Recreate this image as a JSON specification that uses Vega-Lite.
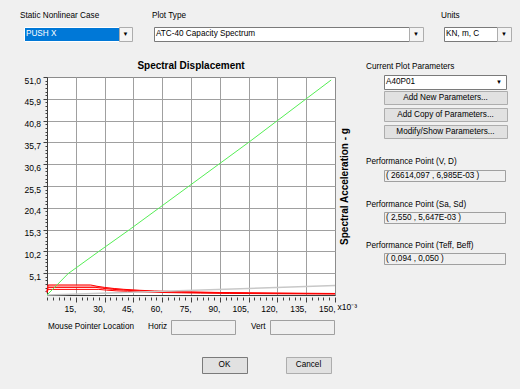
{
  "$schema": "https://vega.github.io/schema/vega-lite/v6.json",
  "background": "#f0f0f0",
  "padding": 0,
  "config": {
    "font": "Liberation Sans",
    "view": {"stroke": null},
    "title": {"font": "Liberation Sans", "color": "#000000", "fontSize": 8.2, "fontWeight": "normal"},
    "axis": {"labelFont": "Liberation Sans", "titleFont": "Liberation Sans", "labelColor": "#000000", "titleColor": "#000000"},
    "text": {"font": "Liberation Sans", "fontSize": 8.2, "color": "#000000"}
  },
  "datasets": {
    "curves": [
      {"series": "R1", "sd": 0, "sa": 0.94}, {"series": "R1", "sd": 0.6, "sa": 2.35}, {"series": "R1", "sd": 22.7, "sa": 2.35}, {"series": "R1", "sd": 26, "sa": 2.05}, {"series": "R1", "sd": 30, "sa": 1.78}, {"series": "R1", "sd": 35, "sa": 1.52}, {"series": "R1", "sd": 40, "sa": 1.33}, {"series": "R1", "sd": 48, "sa": 1.11}, {"series": "R1", "sd": 56, "sa": 0.95}, {"series": "R1", "sd": 65, "sa": 0.82}, {"series": "R1", "sd": 75, "sa": 0.71}, {"series": "R1", "sd": 90, "sa": 0.59}, {"series": "R1", "sd": 105, "sa": 0.51}, {"series": "R1", "sd": 120, "sa": 0.44}, {"series": "R1", "sd": 135, "sa": 0.4}, {"series": "R1", "sd": 150, "sa": 0.36},
      {"series": "P1", "sd": 0, "sa": 0.86}, {"series": "P1", "sd": 0.6, "sa": 2.15}, {"series": "P1", "sd": 23.5, "sa": 2.15}, {"series": "P1", "sd": 27, "sa": 1.87}, {"series": "P1", "sd": 32, "sa": 1.58}, {"series": "P1", "sd": 38, "sa": 1.33}, {"series": "P1", "sd": 45, "sa": 1.12}, {"series": "P1", "sd": 55, "sa": 0.92}, {"series": "P1", "sd": 65, "sa": 0.78}, {"series": "P1", "sd": 75, "sa": 0.67}, {"series": "P1", "sd": 90, "sa": 0.56}, {"series": "P1", "sd": 105, "sa": 0.48}, {"series": "P1", "sd": 120, "sa": 0.42}, {"series": "P1", "sd": 135, "sa": 0.37}, {"series": "P1", "sd": 150, "sa": 0.34},
      {"series": "P2", "sd": 0, "sa": 0.78}, {"series": "P2", "sd": 0.6, "sa": 1.95}, {"series": "P2", "sd": 24.5, "sa": 1.95}, {"series": "P2", "sd": 28, "sa": 1.71}, {"series": "P2", "sd": 33, "sa": 1.45}, {"series": "P2", "sd": 40, "sa": 1.2}, {"series": "P2", "sd": 48, "sa": 1.0}, {"series": "P2", "sd": 56, "sa": 0.85}, {"series": "P2", "sd": 65, "sa": 0.74}, {"series": "P2", "sd": 75, "sa": 0.64}, {"series": "P2", "sd": 90, "sa": 0.53}, {"series": "P2", "sd": 105, "sa": 0.46}, {"series": "P2", "sd": 120, "sa": 0.4}, {"series": "P2", "sd": 135, "sa": 0.35}, {"series": "P2", "sd": 150, "sa": 0.32},
      {"series": "R2", "sd": 0, "sa": 0.71}, {"series": "R2", "sd": 0.6, "sa": 1.78}, {"series": "R2", "sd": 25.5, "sa": 1.78}, {"series": "R2", "sd": 29, "sa": 1.57}, {"series": "R2", "sd": 34, "sa": 1.34}, {"series": "R2", "sd": 40, "sa": 1.14}, {"series": "R2", "sd": 48, "sa": 0.95}, {"series": "R2", "sd": 56, "sa": 0.81}, {"series": "R2", "sd": 65, "sa": 0.7}, {"series": "R2", "sd": 75, "sa": 0.61}, {"series": "R2", "sd": 90, "sa": 0.5}, {"series": "R2", "sd": 105, "sa": 0.43}, {"series": "R2", "sd": 120, "sa": 0.38}, {"series": "R2", "sd": 135, "sa": 0.34}, {"series": "R2", "sd": 150, "sa": 0.3},
      {"series": "R3", "sd": 0, "sa": 0.52}, {"series": "R3", "sd": 0.6, "sa": 1.31}, {"series": "R3", "sd": 27, "sa": 1.31}, {"series": "R3", "sd": 31, "sa": 1.14}, {"series": "R3", "sd": 36, "sa": 0.98}, {"series": "R3", "sd": 42, "sa": 0.84}, {"series": "R3", "sd": 50, "sa": 0.71}, {"series": "R3", "sd": 60, "sa": 0.59}, {"series": "R3", "sd": 70, "sa": 0.51}, {"series": "R3", "sd": 80, "sa": 0.44}, {"series": "R3", "sd": 95, "sa": 0.37}, {"series": "R3", "sd": 110, "sa": 0.32}, {"series": "R3", "sd": 125, "sa": 0.28}, {"series": "R3", "sd": 140, "sa": 0.25}, {"series": "R3", "sd": 150, "sa": 0.24},
      {"series": "G", "sd": 0, "sa": 0}, {"series": "G", "sd": 150, "sa": 2.2},
      {"series": "C", "sd": 0, "sa": 0}, {"series": "C", "sd": 5.65, "sa": 2.55}, {"series": "C", "sd": 11, "sa": 5.0}, {"series": "C", "sd": 27, "sa": 10.2}, {"series": "C", "sd": 43, "sa": 15.3}, {"series": "C", "sd": 58.5, "sa": 20.4}, {"series": "C", "sd": 74, "sa": 25.5}, {"series": "C", "sd": 89.5, "sa": 30.6}, {"series": "C", "sd": 105, "sa": 35.7}, {"series": "C", "sd": 120, "sa": 40.8}, {"series": "C", "sd": 135, "sa": 45.9}, {"series": "C", "sd": 148, "sa": 50.3}
    ]
  },
  "spacing": 0,
  "bounds": "full",
  "vconcat": [
    {"width": 520, "height": 11, "data": {"values": []}, "mark": "point"},
    {
      "spacing": 0, "bounds": "flush",
      "hconcat": [
        {"width": 20, "height": 10, "data": {"values": []}, "mark": "point"},
        {"width": 132, "height": 10, "data": {"values": [{"t": "Static Nonlinear Case"}]}, "mark": {"type": "text", "align": "left", "x": 0}, "encoding": {"text": {"field": "t"}}},
        {"width": 289, "height": 10, "data": {"values": [{"t": "Plot Type"}]}, "mark": {"type": "text", "align": "left", "x": 0}, "encoding": {"text": {"field": "t"}}},
        {"width": 79, "height": 10, "data": {"values": [{"t": "Units"}]}, "mark": {"type": "text", "align": "left", "x": 0}, "encoding": {"text": {"field": "t"}}}
      ]
    },
    {"width": 520, "height": 5, "data": {"values": []}, "mark": "point"},
    {
      "spacing": 0, "bounds": "flush",
      "hconcat": [
        {"width": 24, "height": 14, "data": {"values": []}, "mark": "point"},
        {"width": 95, "height": 14, "view": {"fill": "#0078d7", "stroke": "#ffffff"},
         "data": {"values": [{"t": "PUSH X"}]},
         "mark": {"type": "text", "align": "left", "x": 2, "color": "#ffffff"},
         "encoding": {"text": {"field": "t"}}},
        {"width": 13, "height": 14, "view": {"fill": "#f4f4f4", "stroke": "#adadad"},
         "data": {"values": [{"t": "▼"}]}, "mark": {"type": "text", "fontSize": 6}, "encoding": {"text": {"field": "t"}}},
        {"width": 22, "height": 14, "data": {"values": []}, "mark": "point"},
        {"width": 255, "height": 14, "view": {"fill": "#ffffff", "stroke": "#7a7a7a"},
         "data": {"values": [{"t": "ATC-40 Capacity Spectrum"}]},
         "mark": {"type": "text", "align": "left", "x": 2},
         "encoding": {"text": {"field": "t"}}},
        {"width": 14, "height": 14, "view": {"fill": "#f4f4f4", "stroke": "#adadad"},
         "data": {"values": [{"t": "▼"}]}, "mark": {"type": "text", "fontSize": 6}, "encoding": {"text": {"field": "t"}}},
        {"width": 21, "height": 14, "data": {"values": []}, "mark": "point"},
        {"width": 53, "height": 14, "view": {"fill": "#ffffff", "stroke": "#7a7a7a"},
         "data": {"values": [{"t": "KN, m, C"}]},
         "mark": {"type": "text", "align": "left", "x": 2},
         "encoding": {"text": {"field": "t"}}},
        {"width": 14, "height": 14, "view": {"fill": "#f4f4f4", "stroke": "#adadad"},
         "data": {"values": [{"t": "▼"}]}, "mark": {"type": "text", "fontSize": 6}, "encoding": {"text": {"field": "t"}}}
      ]
    },
    {"width": 520, "height": 18, "data": {"values": []}, "mark": "point"},
    {
      "spacing": 0, "bounds": "full",
      "hconcat": [
        {"width": 23, "height": 10, "data": {"values": []}, "mark": "point"},
        {
          "spacing": 0, "bounds": "flush",
          "vconcat": [
            {"width": 288, "height": 16, "data": {"values": []}, "mark": "point"},
            {
              "width": 288, "height": 218,
              "view": {"fill": "#ffffff", "stroke": "#8c8c8c"},
              "title": {"text": "Spectral Displacement", "fontSize": 10, "fontWeight": "bold", "offset": 5},
              "resolve": {"axis": {"x": "independent", "y": "independent"}},
              "layer": [
                {
                  "data": {"name": "curves"},
                  "transform": [{"filter": "datum.series === 'P1' || datum.series === 'P2'"}],
                  "mark": {"type": "line", "color": "#ff9c9c", "strokeWidth": 1},
                  "encoding": {
                    "x": {"field": "sd", "type": "quantitative", "scale": {"domain": [0, 150], "nice": false, "zero": true},
                          "axis": {"orient": "bottom", "values": [15, 30, 45, 60, 75, 90, 105, 120, 135], "grid": true, "gridColor": "#a0a0a0", "gridOpacity": 1, "ticks": false, "labels": false, "domain": true, "domainColor": "#3c3c3c", "title": null}},
                    "y": {"field": "sa", "type": "quantitative", "scale": {"domain": [0, 51], "nice": false, "zero": true},
                          "axis": {"orient": "left", "values": [5.1, 10.2, 15.3, 20.4, 25.5, 30.6, 35.7, 40.8, 45.9], "grid": true, "gridColor": "#a0a0a0", "gridOpacity": 1, "ticks": false, "labels": false, "domain": true, "domainColor": "#3c3c3c", "title": null}},
                    "detail": {"field": "series"}
                  }
                },
                {
                  "data": {"name": "curves"},
                  "transform": [{"filter": "datum.series === 'R1' || datum.series === 'R2' || datum.series === 'R3'"}],
                  "mark": {"type": "line", "color": "#ff0000"},
                  "encoding": {
                    "x": {"field": "sd", "type": "quantitative", "scale": {"domain": [0, 150], "nice": false, "zero": true},
                          "axis": {"orient": "bottom", "values": [15, 30, 45, 60, 75, 90, 105, 120, 135, 150], "grid": false, "domain": false, "offset": 2, "tickSize": 5, "tickColor": "#404040",
                                   "labelExpr": "datum.value + ','", "labelAlign": "right", "labelDx": -3, "labelFontSize": 8.5, "labelPadding": 2, "labelFlush": false, "labelOverlap": false,
                                   "title": "x10⁻³", "titleAngle": 0, "titleAlign": "left", "titleBaseline": "middle", "titleX": 290, "titleY": 9, "titleFontWeight": "normal", "titleFontSize": 8.5}},
                    "y": {"field": "sa", "type": "quantitative", "scale": {"domain": [0, 51], "nice": false, "zero": true},
                          "axis": {"orient": "left", "values": [5.1, 10.2, 15.3, 20.4, 25.5, 30.6, 35.7, 40.8, 45.9, 51], "grid": false, "domain": false, "tickSize": 4, "tickColor": "#404040",
                                   "labelExpr": "replace(format(datum.value, '.1f'), '.', ',')", "labelFontSize": 8.5, "labelPadding": 2.5, "labelBaseline": "middle", "labelOffset": 3, "labelFlush": false, "labelOverlap": false, "title": null}},
                    "strokeWidth": {"field": "series", "type": "nominal", "scale": {"domain": ["R1", "R2", "R3"], "range": [1, 1, 2]}, "legend": null}
                  }
                },
                {
                  "data": {"name": "curves"},
                  "transform": [{"filter": "datum.series === 'G'"}],
                  "mark": {"type": "line", "color": "#c8c8c8", "strokeWidth": 1.5},
                  "encoding": {
                    "x": {"field": "sd", "type": "quantitative", "scale": {"domain": [0, 150], "nice": false, "zero": true},
                          "axis": {"orient": "bottom", "values": [0, 3, 6, 9, 12, 18, 21, 24, 27, 33, 36, 39, 42, 48, 51, 54, 57, 63, 66, 69, 72, 78, 81, 84, 87, 93, 96, 99, 102, 108, 111, 114, 117, 123, 126, 129, 132, 138, 141, 144, 147], "grid": false, "domain": false, "offset": 2, "tickSize": 3, "tickColor": "#404040", "labels": false, "title": null}},
                    "y": {"field": "sa", "type": "quantitative", "scale": {"domain": [0, 51], "nice": false, "zero": true},
                          "axis": {"orient": "left", "values": [0.85, 1.7, 2.55, 3.4, 4.25, 5.95, 6.8, 7.65, 8.5, 9.35, 11.05, 11.9, 12.75, 13.6, 14.45, 16.15, 17, 17.85, 18.7, 19.55, 21.25, 22.1, 22.95, 23.8, 24.65, 26.35, 27.2, 28.05, 28.9, 29.75, 31.45, 32.3, 33.15, 34, 34.85, 36.55, 37.4, 38.25, 39.1, 39.95, 41.65, 42.5, 43.35, 44.2, 45.05, 46.75, 47.6, 48.45, 49.3, 50.15], "grid": false, "domain": false, "tickSize": 2, "tickColor": "#404040", "labels": false, "title": null}}
                  }
                },
                {
                  "data": {"name": "curves"},
                  "transform": [{"filter": "datum.series === 'C'"}],
                  "mark": {"type": "line", "color": "#55ee55", "strokeWidth": 1},
                  "encoding": {
                    "x": {"field": "sd", "type": "quantitative", "scale": {"domain": [0, 150], "nice": false, "zero": true}, "axis": null},
                    "y": {"field": "sa", "type": "quantitative", "scale": {"domain": [0, 51], "nice": false, "zero": true},
                          "axis": {"orient": "right", "labels": false, "ticks": false, "domain": false, "grid": false, "title": "Spectral Acceleration - g", "titleAngle": 270, "titleFontWeight": "bold", "titleFontSize": 10, "titlePadding": 14}}
                  }
                }
              ]
            }
          ]
        },
        {"width": 8, "height": 10, "data": {"values": []}, "mark": "point"},
        {
          "spacing": 0, "bounds": "flush",
          "vconcat": [
            {"width": 122, "height": 12, "data": {"values": [{"t": "Current Plot Parameters"}]}, "mark": {"type": "text", "align": "left", "x": -18}, "encoding": {"text": {"field": "t"}}},
            {"width": 122, "height": 2, "data": {"values": []}, "mark": "point"},
            {"width": 122, "height": 14, "view": {"fill": "#ffffff", "stroke": "#7a7a7a"},
             "data": {"values": [{"t": "A40P01", "a": "▼"}]},
             "layer": [
               {"mark": {"type": "text", "align": "left", "x": 2}, "encoding": {"text": {"field": "t"}}},
               {"mark": {"type": "text", "align": "right", "x": "width", "dx": -4, "fontSize": 6}, "encoding": {"text": {"field": "a"}}}
             ]},
            {"width": 122, "height": 2, "data": {"values": []}, "mark": "point"},
            {"width": 123, "height": 13, "view": {"fill": "#e1e1e1", "stroke": "#adadad"}, "data": {"values": [{"t": "Add New Parameters..."}]}, "mark": {"type": "text"}, "encoding": {"text": {"field": "t"}}},
            {"width": 122, "height": 4, "data": {"values": []}, "mark": "point"},
            {"width": 123, "height": 13, "view": {"fill": "#e1e1e1", "stroke": "#adadad"}, "data": {"values": [{"t": "Add Copy of Parameters..."}]}, "mark": {"type": "text"}, "encoding": {"text": {"field": "t"}}},
            {"width": 122, "height": 4, "data": {"values": []}, "mark": "point"},
            {"width": 123, "height": 13, "view": {"fill": "#e1e1e1", "stroke": "#adadad"}, "data": {"values": [{"t": "Modify/Show Parameters..."}]}, "mark": {"type": "text"}, "encoding": {"text": {"field": "t"}}},
            {"width": 122, "height": 18, "data": {"values": []}, "mark": "point"},
            {"width": 122, "height": 12, "data": {"values": [{"t": "Performance Point (V, D)"}]}, "mark": {"type": "text", "align": "left", "x": -18}, "encoding": {"text": {"field": "t"}}},
            {"width": 122, "height": 2, "data": {"values": []}, "mark": "point"},
            {"width": 121, "height": 11, "view": {"fill": "#f0f0f0", "stroke": "#a0a0a0"}, "data": {"values": [{"t": "( 26614,097 , 6,985E-03 )"}]}, "mark": {"type": "text", "align": "left", "x": 2}, "encoding": {"text": {"field": "t"}}},
            {"width": 122, "height": 18, "data": {"values": []}, "mark": "point"},
            {"width": 122, "height": 12, "data": {"values": [{"t": "Performance Point (Sa, Sd)"}]}, "mark": {"type": "text", "align": "left", "x": -18}, "encoding": {"text": {"field": "t"}}},
            {"width": 122, "height": 1, "data": {"values": []}, "mark": "point"},
            {"width": 121, "height": 11, "view": {"fill": "#f0f0f0", "stroke": "#a0a0a0"}, "data": {"values": [{"t": "( 2,550 , 5,647E-03 )"}]}, "mark": {"type": "text", "align": "left", "x": 2}, "encoding": {"text": {"field": "t"}}},
            {"width": 122, "height": 17, "data": {"values": []}, "mark": "point"},
            {"width": 122, "height": 12, "data": {"values": [{"t": "Performance Point (Teff, Beff)"}]}, "mark": {"type": "text", "align": "left", "x": -18}, "encoding": {"text": {"field": "t"}}},
            {"width": 122, "height": 1, "data": {"values": []}, "mark": "point"},
            {"width": 121, "height": 11, "view": {"fill": "#f0f0f0", "stroke": "#a0a0a0"}, "data": {"values": [{"t": "( 0,094 , 0,050 )"}]}, "mark": {"type": "text", "align": "left", "x": 2}, "encoding": {"text": {"field": "t"}}}
          ]
        }
      ]
    },
    {"width": 520, "height": 6, "data": {"values": []}, "mark": "point"},
    {
      "spacing": 0, "bounds": "flush",
      "hconcat": [
        {"width": 48, "height": 14, "data": {"values": []}, "mark": "point"},
        {"width": 100, "height": 14, "data": {"values": [{"t": "Mouse Pointer Location"}]}, "mark": {"type": "text", "align": "left", "x": 0}, "encoding": {"text": {"field": "t"}}},
        {"width": 23, "height": 14, "data": {"values": [{"t": "Horiz"}]}, "mark": {"type": "text", "align": "left", "x": 0}, "encoding": {"text": {"field": "t"}}},
        {"width": 64, "height": 14, "view": {"fill": "#f0f0f0", "stroke": "#a0a0a0"}, "data": {"values": []}, "mark": "point"},
        {"width": 16, "height": 14, "data": {"values": []}, "mark": "point"},
        {"width": 19, "height": 14, "data": {"values": [{"t": "Vert"}]}, "mark": {"type": "text", "align": "left", "x": 0}, "encoding": {"text": {"field": "t"}}},
        {"width": 64, "height": 14, "view": {"fill": "#f0f0f0", "stroke": "#a0a0a0"}, "data": {"values": []}, "mark": "point"}
      ]
    },
    {"width": 520, "height": 21, "data": {"values": []}, "mark": "point"},
    {
      "spacing": 0, "bounds": "flush",
      "hconcat": [
        {"width": 202, "height": 16, "data": {"values": []}, "mark": "point"},
        {"width": 45, "height": 16, "view": {"fill": "#e1e1e1", "stroke": "#7a7a7a"}, "data": {"values": [{"t": "OK"}]}, "mark": {"type": "text"}, "encoding": {"text": {"field": "t"}}},
        {"width": 39, "height": 16, "data": {"values": []}, "mark": "point"},
        {"width": 45, "height": 16, "view": {"fill": "#e1e1e1", "stroke": "#adadad"}, "data": {"values": [{"t": "Cancel"}]}, "mark": {"type": "text"}, "encoding": {"text": {"field": "t"}}}
      ]
    },
    {"width": 520, "height": 18, "data": {"values": []}, "mark": "point"}
  ]
}
